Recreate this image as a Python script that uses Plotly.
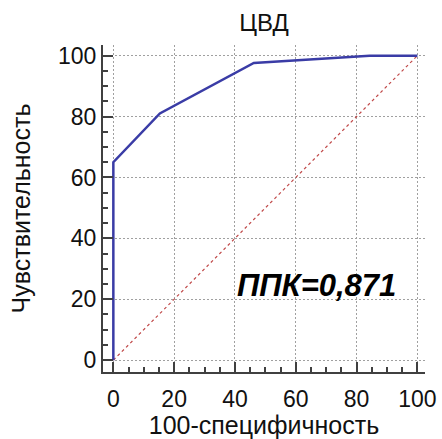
import plotly.graph_objects as go

# ROC curve points (100-specificity, sensitivity)
fpr = [0, 0, 15.3, 46.2, 84.3, 100]
tpr = [0, 65, 81, 97.6, 100, 100]
diag_x = [0, 100]
diag_y = [0, 100]
tick_step = 20
minor_step = 5
auc_label = "ППК=0,871"

FONT = "Liberation Sans, Arial"
XR = [-3.4, 102.5]
YR = [-3.9, 103.5]

fig = go.Figure()
fig.add_trace(go.Scatter(x=diag_x, y=diag_y, mode="lines",
                         line=dict(color="#c04848", width=1.2, dash="dot"),
                         hoverinfo="skip", showlegend=False))
fig.add_trace(go.Scatter(x=fpr, y=tpr, mode="lines",
                         line=dict(color="#3a3ca6", width=2.5),
                         showlegend=False))
fig.add_trace(go.Scatter(x=diag_x, y=diag_y, xaxis="x2", yaxis="y2", mode="lines",
                         line=dict(width=0), opacity=0, hoverinfo="skip", showlegend=False))

axis_common = dict(
    tickmode="linear", tick0=0, dtick=tick_step, automargin=False,
    ticks="inside", ticklen=10, tickwidth=2, tickcolor="#404040",
    showline=True, linecolor="#404040", linewidth=2,
    showgrid=True, gridcolor="#a0a0a0", gridwidth=1,
    zeroline=False,
    tickfont=dict(family=FONT, size=23, color="#111"),
    title_font=dict(family=FONT, size=25, color="#111"),
)
minor_common = dict(
    tickmode="linear", tick0=0, dtick=minor_step, automargin=False,
    ticks="inside", ticklen=5, tickwidth=1.5, tickcolor="#404040",
    showticklabels=False, showgrid=False, showline=False, zeroline=False,
)

fig.update_layout(
    width=442, height=439,
    margin=dict(l=103, r=17, t=45, b=67),
    paper_bgcolor="white", plot_bgcolor="white",
    title=dict(text="ЦВД", x=0.5, xanchor="center", xref="paper",
               y=1 - 23 / 439, yanchor="middle",
               font=dict(family=FONT, size=24, color="#111")),
    xaxis=dict(range=XR, ticklabelstandoff=5, griddash="2px,2px",
               title=dict(text="100-специфичность", standoff=4),
               **axis_common),
    yaxis=dict(range=YR, griddash="2px,2px",
               title=dict(text="Чувствительность", standoff=20),
               **axis_common),
    xaxis2=dict(range=XR, overlaying="x", anchor="y2", side="bottom", **minor_common),
    yaxis2=dict(range=YR, overlaying="y", anchor="x2", side="left", **minor_common),
    annotations=[dict(x=93.5, y=24.5, xref="x", yref="y", text="<b><i>" + auc_label + "</i></b>",
                      showarrow=False, xanchor="right", yanchor="middle",
                      font=dict(family=FONT, size=31, color="black"))],
)

fig.write_html("out.html")
